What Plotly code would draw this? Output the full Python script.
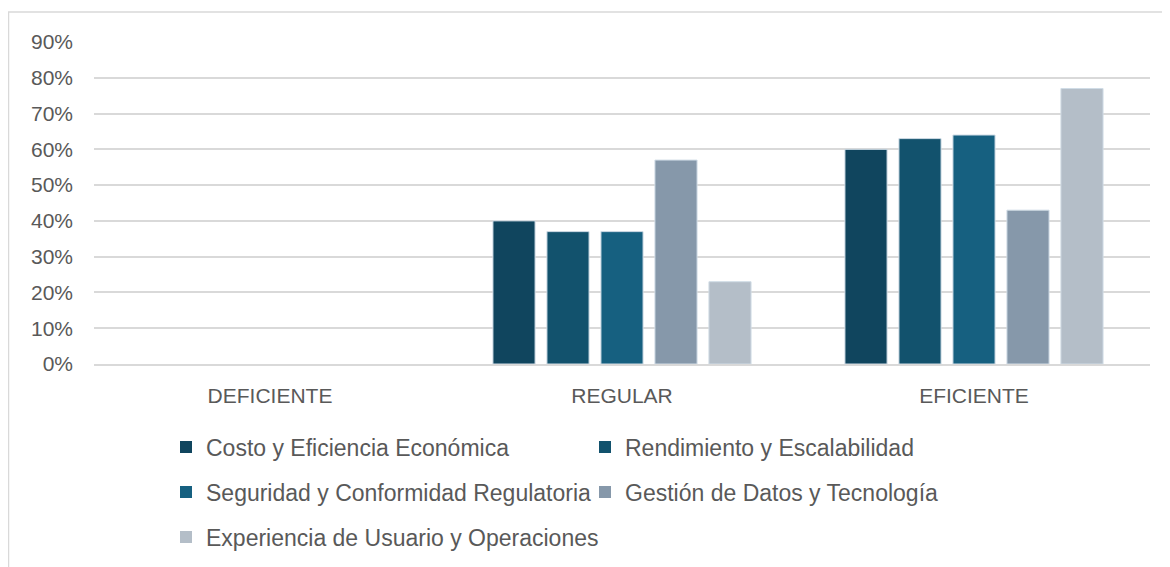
import plotly.graph_objects as go

categories = ["DEFICIENTE", "REGULAR", "EFICIENTE"]
series_names = [
    "Costo y Eficiencia Económica",
    "Rendimiento y Escalabilidad",
    "Seguridad y Conformidad Regulatoria",
    "Gestión de Datos y Tecnología",
    "Experiencia de Usuario y Operaciones",
]
costo = [0.0, 0.40, 0.60]
rendimiento = [0.0, 0.37, 0.63]
seguridad = [0.0, 0.37, 0.64]
gestion = [0.0, 0.57, 0.43]
experiencia = [0.0, 0.23, 0.77]
series_values = [costo, rendimiento, seguridad, gestion, experiencia]
colors = ["#10455E", "#12526D", "#166080", "#8698AA", "#B4BEC8"]
legend_ids = ["legend", "legend", "legend2", "legend2", "legend3"]

tick_vals = [i / 10 for i in range(10)]
tick_text = [f"{i*10}%" for i in range(10)]

FONT = "Liberation Sans, Arial, sans-serif"
GRAY = "#595959"

fig = go.Figure()
for name, vals, col, lg in zip(series_names, series_values, colors, legend_ids):
    fig.add_trace(go.Bar(
        x=categories, y=vals, name=name, legend=lg,
        marker=dict(color=col, line=dict(color="#D0DCE6",
                                         width=[1 if v > 0 else 0 for v in vals])),
    ))

W, H = 1170, 567
OFF = 8  # page body offset
ml, mr, mt, mb = 94 - OFF, 20 + OFF, 42 - OFF, 203 + OFF
pw, ph = W - ml - mr, H - mt - mb

def leg(ypix, ew=374):
    return dict(
        orientation="h", x=158 / W, xref="container", xanchor="left",
        y=1 - (ypix - OFF) / H, yref="container", yanchor="middle",
        font=dict(family=FONT, size=23, color=GRAY),
        entrywidth=ew, entrywidthmode="pixels",
        itemwidth=30, bgcolor="rgba(0,0,0,0)", traceorder="normal",
    )

fig.update_layout(
    width=W, height=H,
    margin=dict(l=ml, r=mr, t=mt, b=mb),
    paper_bgcolor="white", plot_bgcolor="white",
    barmode="group", bargap=0.233, bargroupgap=0.22,
    font=dict(family=FONT, color=GRAY),
    showlegend=True,
    legend=leg(447), legend2=leg(492), legend3=leg(537, 600),
    xaxis=dict(
        showgrid=False, showline=True, linecolor="#D9D9D9", linewidth=1.5,
        ticks="", tickfont=dict(family=FONT, size=21, color=GRAY),
        ticklabelstandoff=12,
    ),
    yaxis=dict(
        range=[0, 0.9], tickvals=tick_vals, ticktext=tick_text,
        showgrid=True, gridcolor="#D9D9D9", gridwidth=1.5,
        zeroline=False, showline=False,
        tickfont=dict(family=FONT, size=21, color=GRAY),
        ticklabelstandoff=20,
    ),
    shapes=[dict(
        type="rect", xref="paper", yref="paper",
        x0=(8.5 - OFF - ml) / pw, x1=(W + 20 - ml) / pw,
        y0=-2, y1=(H - mb - (12 - OFF)) / ph,
        line=dict(color="#D9D9D9", width=1.5), fillcolor="rgba(0,0,0,0)",
        layer="below",
    )],
)

fig.write_html("out.html")
